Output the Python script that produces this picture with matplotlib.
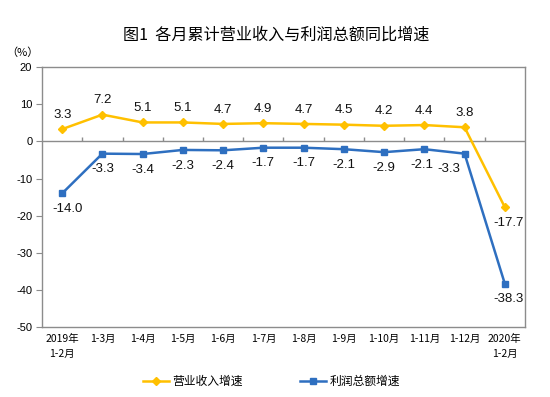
import matplotlib.pyplot as plt
import numpy as np

plt.rcParams['font.family'] = ['Noto Sans CJK SC', 'DejaVu Sans']
plt.rcParams['axes.unicode_minus'] = False

categories = ['2019年\n1-2月', '1-3月', '1-4月', '1-5月', '1-6月', '1-7月',
              '1-8月', '1-9月', '1-10月', '1-11月', '1-12月', '2020年\n1-2月']
income = [3.3, 7.2, 5.1, 5.1, 4.7, 4.9, 4.7, 4.5, 4.2, 4.4, 3.8, -17.7]
profit = [-14.0, -3.3, -3.4, -2.3, -2.4, -1.7, -1.7, -2.1, -2.9, -2.1, -3.3, -38.3]

yellow = '#FFC000'
blue = '#2E6FC0'
grey = '#8C8C8C'

fig = plt.figure(figsize=(5.5, 3.97), dpi=100)
ax = fig.add_axes([0.0764, 0.176, 0.878, 0.655])

x = np.arange(len(categories))
ax.plot(x, income, color=yellow, lw=1.8, marker='D', ms=4.5, label='营业收入增速')
ax.plot(x, profit, color=blue, lw=1.8, marker='s', ms=4, label='利润总额增速')

lab_font = dict(family=['Liberation Sans', 'DejaVu Sans'], fontsize=9.5, color='#111111')
for i, v in enumerate(income):
    if i == len(income) - 1:
        ax.annotate(f'{v:.1f}', (i, v), xytext=(3, -7), textcoords='offset points',
                    ha='center', va='top', **lab_font)
    else:
        ax.annotate(f'{v:.1f}', (i, v), xytext=(0, 6), textcoords='offset points',
                    ha='center', va='bottom', **lab_font)
for i, v in enumerate(profit):
    dx = {0: 4, 9: -2, 10: -11, 11: 3}.get(i, 0)
    ax.annotate(f'{v:.1f}', (i, v), xytext=(dx, -7), textcoords='offset points',
                ha='center', va='top', **lab_font)

ax.set_xlim(-0.5, len(categories) - 0.5)
ax.set_ylim(-50, 20)
ax.set_yticks(range(-50, 21, 10))
ax.set_xticks(x)
ax.set_xticklabels(categories, fontsize=7.5, linespacing=1.6)
ax.tick_params(axis='x', length=0, pad=5)
ax.tick_params(axis='y', length=4, color=grey, labelsize=8, pad=3)
for lbl in ax.get_yticklabels():
    lbl.set_family(['Liberation Sans', 'DejaVu Sans'])

# zero line with category tick marks
ax.axhline(0, color=grey, lw=1.0, zorder=1)
ax.vlines(np.arange(0.5, len(categories) - 0.5), 0, 1.1, color=grey, lw=1.0, zorder=1)

for side in ['left', 'right', 'top', 'bottom']:
    ax.spines[side].set_color(grey)
    ax.spines[side].set_linewidth(1.0)

fig.text(0.502, 0.912, '图1  各月累计营业收入与利润总额同比增速', ha='center', va='center',
         fontsize=11.6)
fig.text(0.04, 0.868, '（%）', ha='center', va='center', fontsize=8)

ax.legend(loc='center', bbox_to_anchor=(0.475, -0.208), ncol=2, frameon=False,
          fontsize=8.5, handlelength=2.2, columnspacing=4.8, handletextpad=0.3)

fig.savefig('out.png', dpi=100)
